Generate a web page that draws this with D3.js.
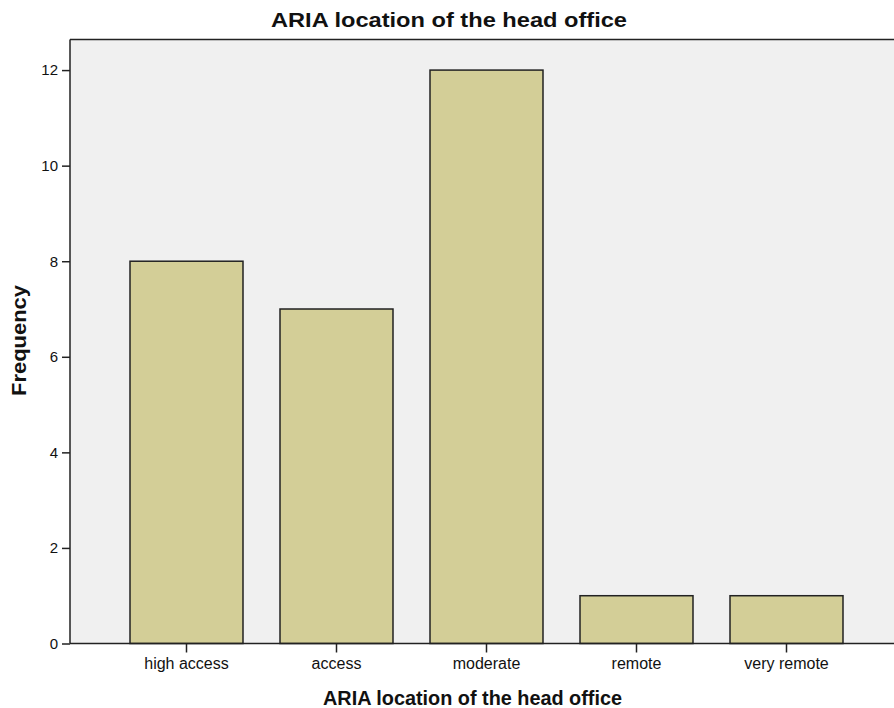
<!DOCTYPE html>
<html><head><meta charset="utf-8">
<script src="https://cdn.jsdelivr.net/npm/d3@7"></script>
<style>body{margin:0;background:#fff}svg{display:block}text{font-family:"Liberation Sans",Arial,sans-serif}</style>
</head><body>
<svg id="c" width="894" height="708"></svg>
<script>
const categories = ["high access","access","moderate","remote","very remote"];
const counts = [8,7,12,1,1];
const yTicks = [0,2,4,6,8,10,12];
const titleText = "ARIA location of the head office";
const xTitle = "ARIA location of the head office";
const yTitle = "Frequency";

const svg = d3.select("#c");
const L=70, T=39.5, R=900, B=643.5;
const x = d3.scaleBand().domain(categories).range([111.5,861.5]).paddingInner(0.2467).paddingOuter(0.12335);
const y = d3.scaleLinear().domain([0,12.64]).range([B,T]);

svg.append("rect").attr("x",L).attr("y",T).attr("width",R-L).attr("height",B-T).attr("fill","#f0f0f0");

svg.append("g").selectAll("rect").data(counts).join("rect")
  .attr("x",(d,i)=>x(categories[i])).attr("y",d=>y(d))
  .attr("width",x.bandwidth()).attr("height",d=>B-y(d))
  .attr("fill","#d3ce97").attr("stroke","#222").attr("stroke-width",1.5);

svg.append("line").attr("x1",L).attr("x2",R).attr("y1",T).attr("y2",T).attr("stroke","#222").attr("stroke-width",1.5);

const ya = svg.append("g").attr("transform",`translate(${L},0)`).call(d3.axisLeft(y).tickValues(yTicks).tickSize(8).tickPadding(4).tickFormat(d3.format("d")));
ya.select(".domain").attr("stroke","#222").attr("stroke-width",1.5).attr("d",`M0,${T}V${B}`);
ya.selectAll(".tick line").attr("stroke","#222").attr("stroke-width",1.5);
ya.selectAll("text").attr("font-size",15).attr("fill","#111").attr("font-family","Liberation Sans, Arial, sans-serif");

const xa = svg.append("g").attr("transform",`translate(0,${B})`).call(d3.axisBottom(x).tickSize(9).tickPadding(5));
xa.select(".domain").attr("stroke","#222").attr("stroke-width",1.5).attr("d",`M${L},0H${R}`);
xa.selectAll(".tick line").attr("stroke","#222").attr("stroke-width",1.5);
xa.selectAll("text").attr("font-size",16).attr("fill","#111").attr("font-family","Liberation Sans, Arial, sans-serif");

svg.append("text").attr("x",449).attr("y",27).attr("text-anchor","middle").attr("font-size",21).attr("font-weight","bold").attr("fill","#111")
  .attr("textLength",356).attr("lengthAdjust","spacingAndGlyphs").text(titleText);
svg.append("text").attr("x",472.5).attr("y",705).attr("text-anchor","middle").attr("font-size",20).attr("font-weight","bold").attr("fill","#111")
  .attr("textLength",299).attr("lengthAdjust","spacingAndGlyphs").text(xTitle);
svg.append("text").attr("transform","translate(26,340.5) rotate(-90)").attr("text-anchor","middle").attr("font-size",20).attr("font-weight","bold").attr("fill","#111")
  .attr("textLength",111).attr("lengthAdjust","spacingAndGlyphs").text(yTitle);
</script>
</body></html>
